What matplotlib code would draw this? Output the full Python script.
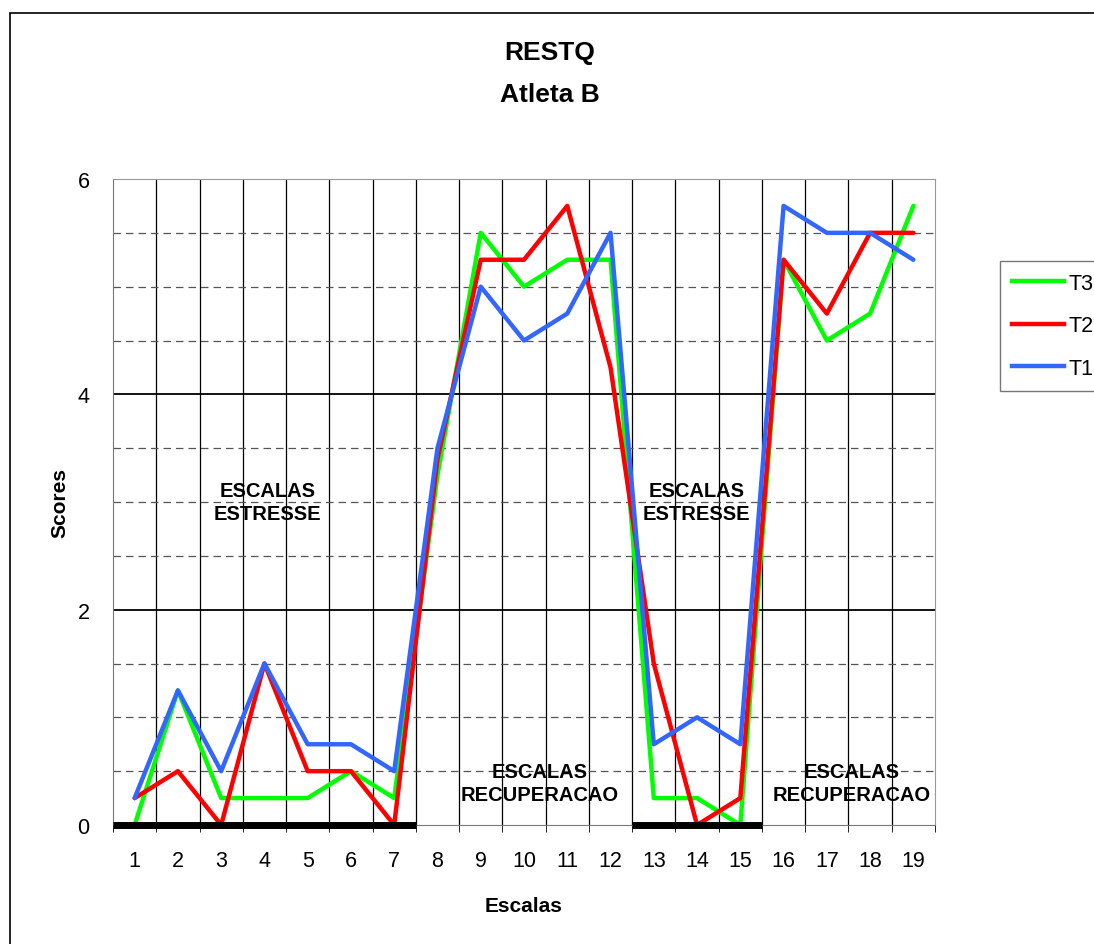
import matplotlib.pyplot as plt
import numpy as np
from matplotlib.patches import Rectangle
from matplotlib.lines import Line2D

plt.rcParams['font.family'] = ['Liberation Sans', 'DejaVu Sans']

escalas = list(range(1, 20))
t3 = [0, 1.25, 0.25, 0.25, 0.25, 0.5, 0.25, 3.25, 5.5, 5.0, 5.25, 5.25, 0.25, 0.25, 0, 5.25, 4.5, 4.75, 5.75]
t2 = [0.25, 0.5, 0, 1.5, 0.5, 0.5, 0, 3.4, 5.25, 5.25, 5.75, 4.25, 1.5, 0, 0.25, 5.25, 4.75, 5.5, 5.5]
t1 = [0.25, 1.25, 0.5, 1.5, 0.75, 0.75, 0.5, 3.5, 5.0, 4.5, 4.75, 5.5, 0.75, 1.0, 0.75, 5.75, 5.5, 5.5, 5.25]
series = [("T3", t3, "#00ff00"), ("T2", t2, "#ff0000"), ("T1", t1, "#3366ff")]

W, H = 1094, 945
fig = plt.figure(figsize=(W / 100, H / 100), dpi=100)
ax = fig.add_axes([113 / W, 1 - 826 / H, (935 - 113) / W, (826 - 180) / H])

# outer chart border (cut off at the right/bottom like the original)
fig.patches.append(Rectangle((10 / W, -0.1), 1.2, 1 - 14 / H + 0.1, transform=fig.transFigure,
                             fill=False, edgecolor='black', linewidth=1.2))

ax.set_xlim(0.5, 19.5)
ax.set_ylim(0, 6)

# grid
for xb in np.arange(1.5, 19.5, 1):
    ax.axvline(xb, color='black', linewidth=0.9, zorder=1)
for yv in np.arange(0.5, 6, 0.5):
    if yv % 2 == 0:
        ax.axhline(yv, color='black', linewidth=1.3, zorder=1)
    else:
        ax.axhline(yv, color='#555555', linewidth=0.9, dashes=(6, 4), zorder=1)

for name, vals, col in series:
    ax.plot(escalas, vals, color=col, linewidth=3.2, solid_capstyle='round', zorder=3, clip_on=False)

# stress scale markers on the axis
ax.plot([0.5, 7.5], [0, 0], color='black', linewidth=5, solid_capstyle='butt', clip_on=False, zorder=4)
ax.plot([12.5, 15.5], [0, 0], color='black', linewidth=5, solid_capstyle='butt', clip_on=False, zorder=4)

for sp in ['top', 'right']:
    ax.spines[sp].set_color('#999999')
ax.spines['left'].set_color('#777777')
ax.spines['bottom'].set_color('#777777')

ax.set_xticks(escalas)
ax.set_xticklabels([str(e) for e in escalas], fontsize=15.5)
ax.set_xticks(np.arange(0.5, 20, 1), minor=True)
ax.tick_params(axis='x', which='major', length=0, pad=18)
ax.tick_params(axis='x', which='minor', length=5, direction='out')
ax.set_yticks([0, 2, 4, 6])
ax.set_yticklabels(['0', '2', '4', '6'], fontsize=15.5)
ax.tick_params(axis='y', length=0, pad=17)

ax.set_xlabel('Escalas', fontsize=15, fontweight='bold', labelpad=18)
ax.set_ylabel('Scores', fontsize=15, fontweight='bold', labelpad=6)
fig.text(550 / W, 1 - 53 / H, 'RESTQ', ha='center', va='center', fontsize=19, fontweight='bold')
fig.text(550 / W, 1 - 95 / H, 'Atleta B', ha='center', va='center', fontsize=19, fontweight='bold')

notes = [(4.08, 3.0, 'ESCALAS\nESTRESSE'), (13.98, 3.0, 'ESCALAS\nESTRESSE'),
         (10.37, 0.39, 'ESCALAS\nRECUPERACAO'), (17.58, 0.39, 'ESCALAS\nRECUPERACAO')]
for xn, yn, txt in notes:
    ax.text(xn, yn, txt, ha='center', va='center', fontsize=14.5, fontweight='bold',
            linespacing=1.3, zorder=5)

handles = [Line2D([], [], color=c, linewidth=3.2) for _, _, c in series]
leg = fig.legend(handles, [n for n, _, _ in series], loc='upper left',
                 bbox_to_anchor=(1000 / W, 1 - 262 / H), fontsize=15.5, frameon=True,
                 fancybox=False, edgecolor='#555555', handlelength=2.4, labelspacing=1.0,
                 borderpad=0.55, handletextpad=0.25, borderaxespad=0)
leg.get_frame().set_linewidth(1)

fig.savefig('out.png', dpi=100)
